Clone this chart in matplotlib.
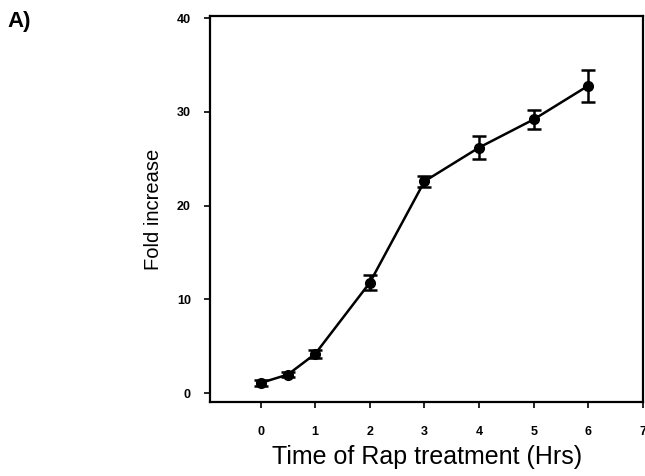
import matplotlib
matplotlib.use("Agg")
import matplotlib.pyplot as plt

plt.rcParams['font.family'] = ['Liberation Sans', 'DejaVu Sans']

hours = [0, 0.5, 1, 2, 3, 4, 5, 6]
fold = [1.1, 2.0, 4.2, 11.8, 22.6, 26.2, 29.2, 32.8]
err = [0.3, 0.3, 0.4, 0.8, 0.6, 1.2, 1.0, 1.7]

fig = plt.figure(figsize=(6.45, 4.76), dpi=100)
ax = fig.add_axes([0.326, 0.155, 0.671, 0.811])

ax.errorbar(hours, fold, yerr=err, color='black', marker='o', markersize=7,
            linewidth=1.8, elinewidth=1.8, capsize=5, capthick=1.8)

ax.set_xlim(-0.92, 7.0)
ax.set_ylim(-0.95, 40.2)
ax.set_xticks(range(0, 8))
ax.set_yticks([0, 10, 20, 30, 40])
for s in ax.spines.values():
    s.set_linewidth(1.6)
ax.tick_params(direction='out', length=4, width=1.2, labelsize=9)
ax.tick_params(axis='x', pad=13)
ax.tick_params(axis='y', pad=10)
for lab in ax.get_xticklabels() + ax.get_yticklabels():
    lab.set_fontweight('bold')

ax.set_xlabel('Time of Rap treatment (Hrs)', fontsize=18, labelpad=5)
ax.set_ylabel('Fold increase', fontsize=14.5, labelpad=10)

fig.text(0.012, 0.943, 'A)', fontsize=16, fontweight='bold')

fig.savefig('out.png', dpi=100)
